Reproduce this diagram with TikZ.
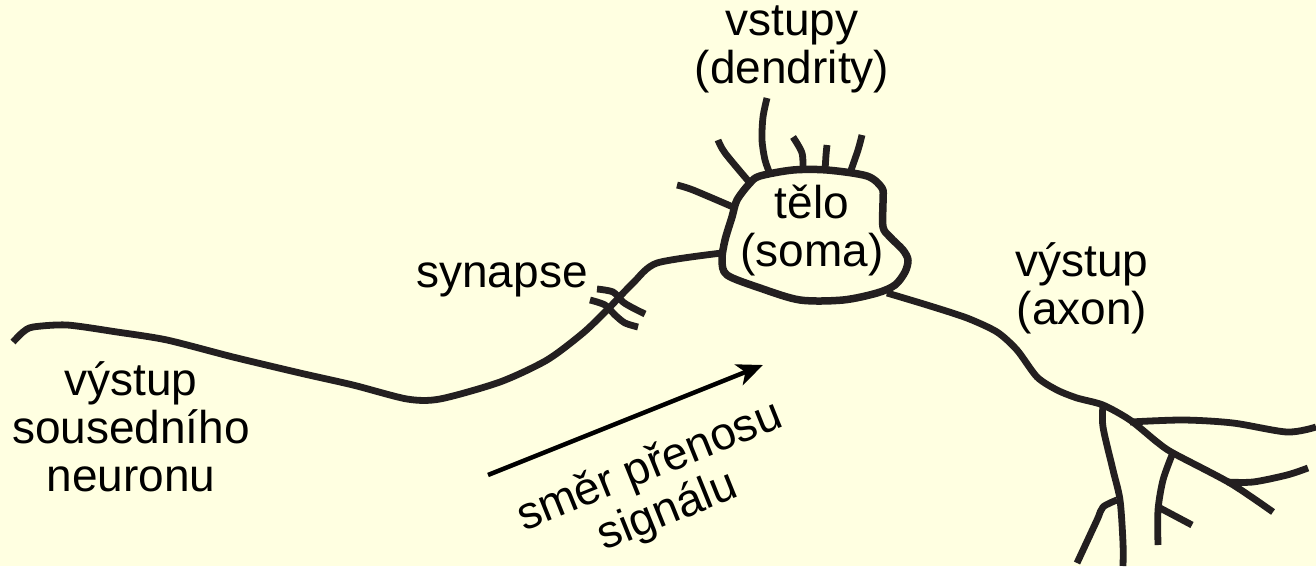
\documentclass[tikz,border=0pt]{standalone}
\usepackage{fontspec}
\setmainfont{Liberation Sans}
\usetikzlibrary{arrows.meta}
\definecolor{paper}{RGB}{255,255,225}
\definecolor{ink}{RGB}{35,31,32}

\begin{document}
\begin{tikzpicture}
[x=1pt,y=-1pt,
  nervedecorate/.style={ink,line width=6.8pt,line join=round},%
  somadecorate/.style={ink,line width=7.5pt,line join=round},%
  labeldecorate/.style={inner sep=0pt,align=center,
    font=\fontsize{46}{48}\selectfont},%
  arrowdecorate/.style={black,line width=4.5pt,
    -{Stealth[length=26pt,width=22pt,inset=7pt]}}]
%% paper
\fill[paper] (0,0) rectangle (1316,566);
\useasboundingbox (0,0) rectangle (1316,566);
%% cell body
\draw[somadecorate] plot[smooth cycle,tension=0.5] coordinates {
  (750,183) (760,176) (793,170) (827,170) (867,176) (882,188) (883,200)
  (883,227) (890,237) (903,250) (908,260) (905,272) (895,285) (877,293)
  (843,300) (800,300) (760,288) (727,275) (722,260) (725,240) (732,217)
  (737,200)};
%% dendrites
\draw[nervedecorate] plot[smooth,tension=0.5] coordinates {
  (767,98) (763,117) (762,140) (765,160) (770,174)};
\foreach \xa/\ya/\xb/\yb/\xc/\yc in {677/185/693/190/733/207,
  718/140/725/153/750/183, 793/137/802/153/803/171,
  827/145/826/155/825/171, 862/135/858/150/850/173} {
  \draw[nervedecorate] plot[smooth,tension=0.5] coordinates
    {(\xa,\ya) (\xb,\yb) (\xc,\yc)};
}
%% axon of the neighbouring neuron
\draw[nervedecorate] plot[smooth,tension=0.45] coordinates {
  (13,342) (23,332) (33,327) (67,325) (117,332) (167,340) (233,357)
  (300,373) (353,385) (407,399) (440,399) (500,382) (547,360) (583,333)
  (607,310) (633,283) (657,263) (722,253)};
%% synapse gap
\draw[nervedecorate] plot[smooth,tension=0.5] coordinates {
  (597,289) (613,292) (623,302) (633,308) (645,314)};
\draw[nervedecorate] plot[smooth,tension=0.5] coordinates {
  (590,300) (605,305) (615,315) (625,323) (638,327)};
%% axon and its branches
\draw[nervedecorate] plot[smooth,tension=0.45] coordinates {
  (887,293) (927,305) (967,318) (997,332) (1017,350) (1037,377)
  (1057,390) (1077,398) (1103,405) (1130,420) (1157,442) (1173,453)
  (1230,483) (1273,512)};
\draw[nervedecorate] plot[smooth,tension=0.5] coordinates {
  (1130,422) (1183,420) (1233,423) (1287,432) (1316,427)};
\draw[nervedecorate] plot[smooth,tension=0.5] coordinates {
  (1227,482) (1253,482) (1287,475) (1308,468)};
\draw[nervedecorate] plot[smooth,tension=0.5] coordinates {
  (1103,405) (1103,427) (1113,470) (1120,500) (1123,543) (1123,566)};
\draw[nervedecorate] plot[smooth,tension=0.5] coordinates {
  (1117,500) (1103,507) (1097,520) (1077,563)};
\draw[nervedecorate] plot[smooth,tension=0.5] coordinates {
  (1172,455) (1163,480) (1158,510) (1158,545)};
\draw[nervedecorate] (1160,508) -- (1192,525);
%% labels
\node (inputs) at (792,49.5) [labeldecorate] {vstupy\\(dendrity)};
\node (body) at (812,230.5) [labeldecorate] {tělo\\(soma)};
\node (synapse) at (502,287) [labeldecorate,anchor=base] {synapse};
\node (output) at (1082,288) [labeldecorate] {výstup\\(axon)};
\node (neighbour) at (131,427) [labeldecorate] {výstup\\sousedního\\neuronu};
\node (direction) at (659,490) [labeldecorate,rotate=22]
  {směr přenosu\\signálu};
%% signal direction
\coordinate (arrowtail) at (488,475);
\coordinate (arrowtip) at (763,365);
\draw[arrowdecorate] (arrowtail) -- (arrowtip);
\end{tikzpicture}
\end{document}
